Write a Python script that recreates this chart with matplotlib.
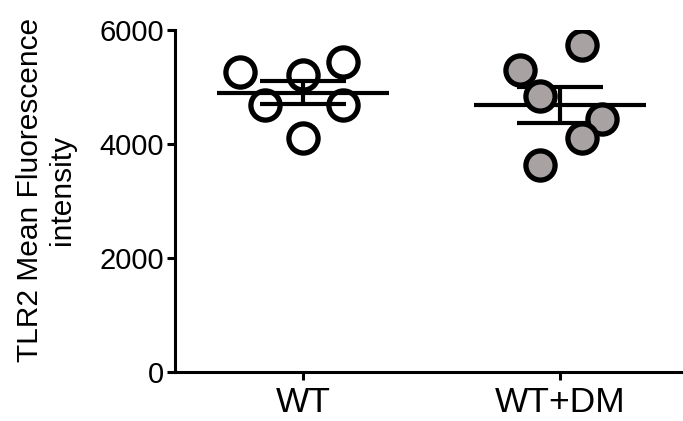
import numpy as np
import matplotlib
matplotlib.use("Agg")
import matplotlib.pyplot as plt

plt.rcParams['font.family'] = ['Liberation Sans', 'DejaVu Sans']

# data
groups = ['WT', 'WT+DM']
wt_vals = [5265, 5213, 5440, 4688, 4688, 4111]
dm_vals = [5737, 5300, 4845, 4443, 4111, 3638]
# horizontal scatter of the dots (offset from group centre)
wt_jit = [-0.245, 0.0, 0.156, -0.148, 0.156, 0.0]
dm_jit = [0.086, -0.156, -0.078, 0.163, 0.086, -0.078]

fig = plt.figure(figsize=(6.83, 4.21), dpi=100)
ax = fig.add_axes([0.256, 0.1164, 0.744, 0.8123])

lw = 2.2
for i, (vals, jit, fc) in enumerate([(wt_vals, wt_jit, 'none'),
                                      (dm_vals, dm_jit, '#a8a2a2')]):
    vals = np.array(vals, float)
    m = vals.mean()
    sem = vals.std(ddof=1) / np.sqrt(len(vals))
    # mean line + sem bars
    ax.hlines(m, i - 0.335, i + 0.335, color='black', lw=3, zorder=2)
    ax.hlines([m - sem, m + sem], i - 0.167, i + 0.167, color='black', lw=3, zorder=2)
    ax.vlines(i, m - sem, m + sem, color='black', lw=3, zorder=2)
    ax.plot(i + np.array(jit), vals, 'o', ms=21, mfc=fc, mec='black',
            mew=3.8, zorder=3, linestyle='none')

ax.set_xlim(-0.498, 1.479)
ax.set_ylim(0, 6000)
ax.set_yticks([0, 2000, 4000, 6000])
ax.set_xticks([0, 1])
ax.set_xticklabels(groups)

for s in ['top', 'right']:
    ax.spines[s].set_visible(False)
for s in ['left', 'bottom']:
    ax.spines[s].set_linewidth(lw)
ax.tick_params(axis='y', labelsize=21, width=lw, length=6, pad=2)
ax.tick_params(axis='x', labelsize=25.5, width=lw, length=6, pad=4)

fig.text(46 / 683, 1 - 190 / 421, 'TLR2 Mean Fluorescence\nintensity',
         rotation=90, ha='center', va='center', fontsize=21.5,
         linespacing=1.2)

fig.savefig('out.png', dpi=100)
